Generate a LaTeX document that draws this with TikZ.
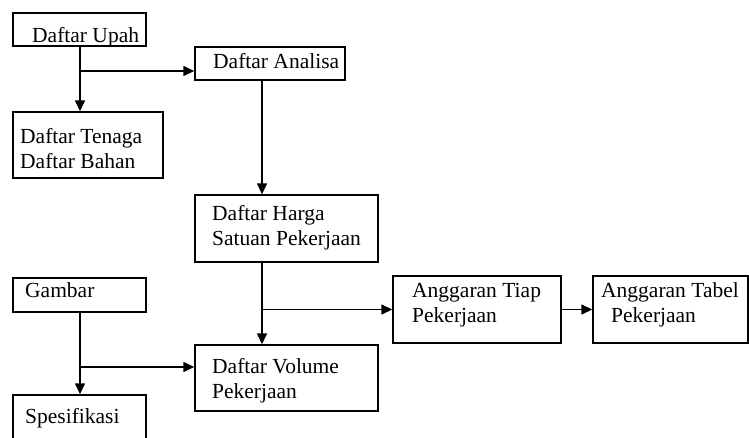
\documentclass[tikz,border=0pt]{standalone}
\usepackage{fontspec}
\setmainfont{Liberation Serif}
\usetikzlibrary{arrows.meta}
\begin{document}
\begin{tikzpicture}[x=1pt,y=-1pt,
  box/.style={draw=black,line width=1.4pt,inner sep=0pt,rectangle},
  arr/.style={draw=black,line width=1.4pt,-{Triangle[length=11pt,width=10pt]}},
  lbl/.style={anchor=base west,inner sep=0pt,font=\fontsize{21.5}{23}\selectfont}]
\clip (0,0) rectangle (749,437);
\fill[white] (0,0) rectangle (749,437);
% boxes
\node[box,minimum width=133pt,minimum height=33pt] (upah) at (79.5,29.5) {};
\node[box,minimum width=150pt,minimum height=33pt] (analisa) at (270,63.5) {};
\node[box,minimum width=150pt,minimum height=66pt] (tenaga) at (88,145) {};
\node[box,minimum width=183pt,minimum height=67pt] (harga) at (286.5,228.5) {};
\node[box,minimum width=133pt,minimum height=34pt] (gambar) at (79.5,295) {};
\node[box,minimum width=183pt,minimum height=66pt] (volume) at (286.5,378) {};
\node[box,minimum width=133pt,minimum height=65pt] (spek) at (79.5,427.5) {};
\node[box,minimum width=168pt,minimum height=67pt] (tiap) at (477,309.5) {};
\node[box,minimum width=155pt,minimum height=67pt] (tabel) at (670.5,309.5) {};
% texts
\node[lbl] (t1) at (32,42) {Daftar Upah};
\node[lbl] (t2) at (213,68) {Daftar Analisa};
\node[lbl] (t3) at (20,143) {Daftar Tenaga};
\node[lbl] (t4) at (20,168) {Daftar Bahan};
\node[lbl] (t5) at (212,220) {Daftar Harga};
\node[lbl] (t6) at (212,245) {Satuan Pekerjaan};
\node[lbl] (t7) at (25,297) {Gambar};
\node[lbl] (t8) at (212,373) {Daftar Volume};
\node[lbl] (t9) at (212,398) {Pekerjaan};
\node[lbl] (t10) at (25,423) {Spesifikasi};
\node[lbl] (t11) at (412,297) {Anggaran Tiap};
\node[lbl] (t12) at (412,322) {Pekerjaan};
\node[lbl] (t13) at (601,297) {Anggaran Tabel};
\node[lbl] (t14) at (611,322) {Pekerjaan};
% connectors
\coordinate (j1) at (80,71);
\coordinate (j2) at (262,309.5);
\coordinate (j3) at (80,367);
\draw[arr] ([xshift=0.5pt]upah.south) -- ([xshift=0.5pt]upah.south |- tenaga.north);
\draw[arr] (j1) -- (j1 -| analisa.west);
\draw[arr] ([xshift=-8pt]analisa.south) -- ([xshift=-8pt]analisa.south |- harga.north);
\draw[arr] ([xshift=-24.5pt]harga.south) -- ([xshift=-24.5pt]harga.south |- volume.north);
\draw[arr] (j2) -- (tiap.west);
\draw[arr] (tiap.east) -- (tabel.west);
\draw[arr] ([xshift=0.5pt]gambar.south) -- ([xshift=0.5pt]gambar.south |- spek.north);
\draw[arr] (j3) -- (j3 -| volume.west);
\end{tikzpicture}
\end{document}
